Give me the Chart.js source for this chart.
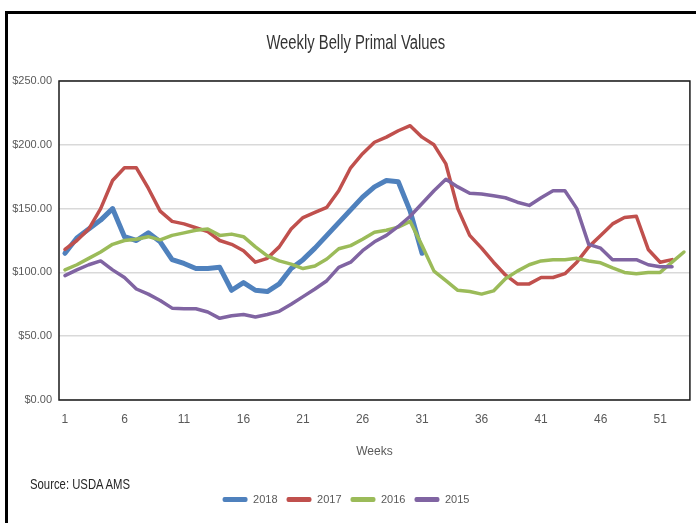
<!DOCTYPE html>
<html><head><meta charset="utf-8">
<script src="https://cdn.jsdelivr.net/npm/chart.js@4.4.1/dist/chart.umd.min.js"></script>
<style>
html,body{margin:0;padding:0;background:#fff;}
#wrap{position:relative;width:696px;height:523px;overflow:hidden;}
#frame{position:absolute;left:5px;top:11px;width:800px;height:800px;border:3px solid #000;box-sizing:border-box;}
#c{position:absolute;left:0;top:0;}
#title{position:absolute;left:0;top:31px;width:712px;text-align:center;line-height:24px;}
#title span{display:inline-block;font:20px 'Liberation Sans',Arial,sans-serif;color:#333;transform:scaleX(0.74);transform-origin:center;white-space:nowrap;}
#src{position:absolute;left:30px;top:475px;line-height:18px;}
#src span{display:inline-block;font:15px 'Liberation Sans',Arial,sans-serif;color:#262626;transform:scaleX(0.755);transform-origin:left center;white-space:nowrap;}
</style></head>
<body><div id="wrap"><div id="frame"></div><canvas id="c" width="696" height="523"></canvas>
<div id="title"><span>Weekly Belly Primal Values</span></div>
<div id="src"><span>Source: USDA AMS</span></div></div>
<script>
const weeks = Array.from({length:53}, (_, i) => String(i + 1));
const seriesNames = ['2018', '2017', '2016', '2015'];
const values2018 = [115,127,134,141,150,128,125,131,124,110,107,103,103,104,86,92,86,85,91,103,110,119,129,139,149,159,167,172,171,148,115];
const values2017 = [118,125,134,150,172,182,182,166,148,140,138,135,132,125,122,117,108,111,120,134,143,147,151,164,182,193,202,206,211,215,206,200,185,150,129,119,108,98,91,91,96,96,99,108,120,129,138,143,144,118,108,110];
const values2016 = [102,106,111,116,122,125,126,128,125.5,129,131,133,134,129,130,128,120,113,109,106.5,103,105,110.5,118.5,121,126,131.5,133,135.5,140,121,101,93.5,86,85,83,85.5,95,101,106,109,110,110,111,109,107.5,103.5,100,99,100,100,108,116];
const values2015 = [97.5,102,106,109,102,96,87,83,78,72,71.5,71.5,69,64,66,67,65,67,69.5,75,81,87,93.5,104,108,117,124,129,136,144,154,164,173,167,162,161.5,160,158.5,155,152.5,158.5,164,164,150,122,119,110,110,110,106,104.5,104.5];
const yTicks = [0, 50, 100, 150, 200, 250];

const F = "'Liberation Sans',Arial,sans-serif";
const colors = ['#4F81BD', '#C0504D', '#9BBB59', '#8064A2'];
const widths = [5, 3.5, 3.5, 3.5];
const allValues = [values2018, values2017, values2016, values2015];

const plotBorder = {
  id: 'plotBorder',
  beforeDatasetsDraw(chart) {
    const {ctx, chartArea: a} = chart;
    ctx.save();
    ctx.strokeStyle = '#1a1a1a';
    ctx.lineWidth = 1.5;
    ctx.strokeRect(a.left, a.top, a.right - a.left, a.bottom - a.top);
    ctx.restore();
  }
};

new Chart(document.getElementById('c'), {
  type: 'line',
  data: {
    labels: weeks,
    datasets: seriesNames.map((name, i) => ({
      label: name,
      data: allValues[i],
      borderColor: colors[i],
      backgroundColor: colors[i],
      borderWidth: widths[i],
      pointRadius: 0,
      tension: 0,
      fill: false,
      order: 3 - i,
      borderJoinStyle: 'round',
      borderCapStyle: 'round'
    }))
  },
  options: {
    responsive: false,
    animation: false,
    layout: {padding: {left: 0, right: 4, top: 81, bottom: 8}},
    plugins: {
      title: {display: false},
      legend: {
        position: 'bottom',
        labels: {
          boxWidth: 25, boxHeight: 5, padding: 9,
          color: '#595959',
          font: {family: F, size: 11},
          useBorderRadius: true, borderRadius: 2,
          generateLabels(chart) {
            const items = Chart.defaults.plugins.legend.labels.generateLabels(chart);
            items.sort((a, b) => a.datasetIndex - b.datasetIndex);
            items.forEach(it => { it.lineWidth = 0; it.fillStyle = colors[it.datasetIndex]; });
            return items;
          }
        }
      },
      tooltip: {enabled: false}
    },
    scales: {
      x: {
        offset: true,
        grid: {display: false, drawTicks: false},
        border: {display: false},
        ticks: {
          autoSkip: false, maxRotation: 0, minRotation: 0, padding: 12,
          color: '#595959', font: {family: F, size: 12},
          callback(v, i) { return i % 5 === 0 ? this.getLabelForValue(v) : ''; }
        },
        title: {display: true, text: 'Weeks', color: '#595959', font: {family: F, size: 12}, padding: {top: 0, bottom: 26}},
        afterFit(s) { s.height = 85; }
      },
      y: {
        min: yTicks[0], max: yTicks[yTicks.length - 1],
        afterBuildTicks(s) { s.ticks = yTicks.map(v => ({value: v})); },
        grid: {color: '#d9d9d9', lineWidth: 1.5, drawTicks: false},
        border: {display: false},
        ticks: {padding: 7, color: '#595959', font: {family: F, size: 11}, callback: v => '$' + Number(v).toFixed(2)},
        afterFit(s) { s.width = 59; }
      }
    }
  },
  plugins: [plotBorder]
});
</script>
</body></html>
